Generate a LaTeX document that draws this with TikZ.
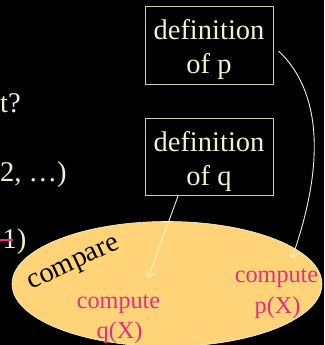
\documentclass[tikz,border=0pt]{standalone}
\usepackage{fontspec}
\setmainfont{Liberation Serif}
\newfontfamily\slidefont{Liberation Serif}
\usetikzlibrary{arrows.meta,calc,shapes.geometric}

\definecolor{cream}{HTML}{F2F2CC}
\definecolor{boxline}{HTML}{D0D0AE}
\definecolor{blob}{HTML}{FFD479}
\definecolor{rosepink}{HTML}{E0307F}

\tikzset{
  bigtext/.style={font=\slidefont\fontsize{28.5}{34.2}\selectfont, inner sep=0pt, anchor=base},
  smalltext/.style={font=\slidefont\fontsize{24.2}{29}\selectfont, inner sep=0pt, anchor=base, text=rosepink},
  defbox/.style={draw=boxline, line width=1pt, minimum width=128pt, minimum height=77pt, inner sep=0pt},
  link/.style={draw=cream, line width=0.9pt, -{Straight Barb[length=6pt,width=10pt]}},
}

\begin{document}
\begin{tikzpicture}[x=1pt,y=-1pt]
  % dark slide background
  \fill[black] (0,0) rectangle (324,345);
  \useasboundingbox (0,0) rectangle (324,345);

  % cut-off text from the left column
  \node[bigtext, anchor=base west, text=cream] (l1) at (0,112) {t?};
  \node[bigtext, anchor=base west, text=cream] (l2) at (0,181) {2, …)};
  \node[bigtext, anchor=base west, text=cream] (l3) at (2.5,248) {1)};
  \draw[rosepink, line width=2.2pt] (0,240) -- (13,240);

  % the comparison blob
  \node[ellipse, fill=blob, draw=cream!80, line width=0.6pt,
        minimum width=310pt, minimum height=125pt, inner sep=0pt] (cmp) at (167,284) {};
  \node[bigtext, rotate=25, text=black] (cmplabel) at (76,269) {compare};

  % computations inside the blob
  \node[smalltext] (cq1) at (118.5,308) {compute};
  \node[smalltext] (cq2) at (119.5,338) {q(X)};
  \node[smalltext] (cp1) at (276.5,282) {compute};
  \node[smalltext] (cp2) at (277.5,313) {p(X)};

  % definition boxes
  \node[defbox] (p) at (209,45.5) {};
  \node[bigtext, text=cream] (p1) at (209,40) {definition};
  \node[bigtext, text=cream] (p2) at (209,74) {of p};

  \node[defbox] (q) at (209,157) {};
  \node[bigtext, text=cream] (q1) at (209,151) {definition};
  \node[bigtext, text=cream] (q2) at (209,185) {of q};

  % arrows from the definitions to the computations
  \coordinate (ptip) at (292,258);
  \coordinate (qtip) at (148,278);
  \draw[link] ($(p.east)+(5,5.5)$) .. controls (315,85) and (330,150) .. (ptip);
  \draw[link] ($(q.south west)!0.26!(q.south east)$) -- (qtip);
\end{tikzpicture}
\end{document}
